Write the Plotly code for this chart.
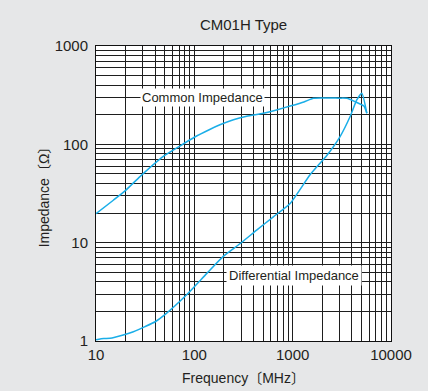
import plotly.graph_objects as go
import math

# ---- data ----
common_freq = [10, 15, 20, 28, 48, 70, 100, 140, 182, 250, 341, 503, 700, 942, 1300, 1626, 2000, 2500, 3000, 3548, 4300, 5300, 5680]
common_z = [19.7, 27, 34, 47, 75, 95, 118, 140, 158, 178, 193, 207, 225, 245, 270, 294, 296, 296, 295, 294, 272, 245, 207]

diff_freq = [10, 12, 13.9, 18.9, 24, 31.5, 40, 52, 83, 134, 198, 293, 430, 636, 942, 1503, 2223, 3034, 3840, 4486, 5050, 5680]
diff_z = [1.03, 1.06, 1.065, 1.15, 1.24, 1.40, 1.57, 1.91, 2.93, 4.87, 7.3, 9.8, 13.4, 18.3, 25, 49, 77, 120, 192, 283, 331, 207]

x_ticks = [10, 100, 1000, 10000]
y_ticks = [1, 10, 100, 1000]
x_minor = [m * 10 ** d for d in range(1, 4) for m in range(2, 10)]
y_minor = [m * 10 ** d for d in range(0, 3) for m in range(2, 10)]

title_text = "CM01H Type"
x_title = "Frequency〔MHz〕"
y_title = "Impedance〔Ω〕"
label_common = "Common Impedance"
label_diff = "Differential Impedance"

LINE = "#1aaee8"
GRID = "#1e1e1e"
TEXT = "#231f20"
FONT = "Liberation Sans, Arial, Noto Sans CJK JP, sans-serif"

fig = go.Figure()
fig.add_trace(go.Scatter(x=common_freq, y=common_z, mode="lines",
                         line=dict(color=LINE, width=1.5, shape="spline", smoothing=0.5),
                         hoverinfo="skip"))
fig.add_trace(go.Scatter(x=diff_freq, y=diff_z, mode="lines",
                         line=dict(color=LINE, width=1.5, shape="spline", smoothing=0.5),
                         hoverinfo="skip"))

axis_common = dict(
    type="log", showline=True, linecolor="#111", linewidth=1, mirror=True,
    showgrid=True, gridcolor=GRID, gridwidth=1, zeroline=False, automargin=False,
    ticks="", tickfont=dict(family=FONT, size=15, color=TEXT),
)

fig.update_xaxes(**axis_common, range=[1, 4], tickvals=x_ticks,
                 ticktext=[str(v) for v in x_ticks],
                 minor=dict(tickvals=x_minor, showgrid=True, gridcolor=GRID, gridwidth=1),
                 title=dict(text=x_title, font=dict(family=FONT, size=14, color=TEXT), standoff=11))
fig.update_yaxes(**axis_common, range=[0, 3], tickvals=y_ticks,
                 ticktext=[str(v) for v in y_ticks], ticklabelstandoff=4,
                 minor=dict(tickvals=y_minor, showgrid=True, gridcolor=GRID, gridwidth=1),
                 title=dict(text=y_title, font=dict(family=FONT, size=14, color=TEXT), standoff=1))

fig.add_annotation(x=math.log10(122), y=math.log10(300), xref="x", yref="y",
                   text=label_common, showarrow=False, bgcolor="white", borderpad=1,
                   font=dict(family=FONT, size=13, color=TEXT))
fig.add_annotation(x=math.log10(1033), y=math.log10(4.6), xref="x", yref="y",
                   text=label_diff, showarrow=False, bgcolor="white", borderpad=2,
                   font=dict(family=FONT, size=13, color=TEXT))

fig.update_layout(
    width=428, height=391,
    margin=dict(l=96, r=37, t=46, b=50),
    paper_bgcolor="#e6e7e8", plot_bgcolor="white",
    showlegend=False, hovermode=False,
    title=dict(text=title_text, x=0.569, xanchor="center", y=0.936, yanchor="middle",
               font=dict(family=FONT, size=15, color=TEXT)),
)

fig.write_html("out.html", config={"displayModeBar": False, "staticPlot": True},
               post_script="document.body.style.margin='0';document.body.style.background='#e6e7e8';")
